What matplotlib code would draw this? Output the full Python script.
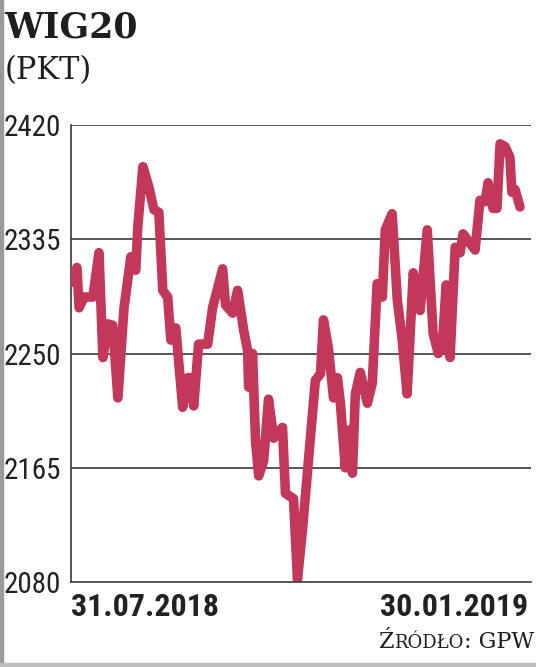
import matplotlib
matplotlib.use("Agg")
import matplotlib.pyplot as plt
from matplotlib.patches import Rectangle

# WIG20 index, days since 31.07.2018
days = [0, 2.4, 3.3, 5.3, 8.9, 11.4, 13, 15, 17, 19.1, 21.6, 24.4, 26.4, 27.2,
        29.3, 31.7, 33.8, 35.8, 37.4, 39.4, 40.7, 42.7, 45.5, 47.6, 48.8, 50,
        52, 55.7, 57.7, 61.8, 63, 65.9, 67.9, 70.4, 72, 72.4, 73.2, 74, 75.2,
        76.5, 78.5, 80.5, 82.6, 86.2, 87.4, 90.7, 92.3, 94.3, 99.6, 101.7,
        102.9, 104.9, 107, 108.6, 109.8, 111.8, 113, 114.7, 115.9, 117.9,
        120.8, 122.8, 124.8, 126.9, 128.1, 130.9, 133, 135, 137, 139.5, 142.3,
        145.2, 147.6, 149.7, 151.3, 152.9, 154.5, 156.6, 158.6, 159.8, 164.7,
        166.7, 168.8, 170, 172, 173.6, 174.9, 176.9, 178.9, 179.7, 181, 183]
wig20 = [2303, 2314, 2284, 2292, 2292, 2325, 2247, 2272, 2271, 2217, 2284,
         2322, 2312, 2344, 2389, 2374, 2357, 2355, 2297, 2292, 2260, 2269,
         2210, 2232, 2232, 2211, 2257, 2257, 2284, 2313, 2286, 2280, 2297,
         2267, 2252, 2225, 2228, 2250, 2185, 2159, 2170, 2216, 2187, 2195,
         2146, 2142, 2082, 2118, 2230, 2235, 2275, 2254, 2217, 2232, 2213,
         2165, 2193, 2161, 2220, 2236, 2213, 2228, 2302, 2292, 2342, 2354,
         2290, 2260, 2220, 2310, 2282, 2342, 2265, 2250, 2254, 2301, 2247,
         2329, 2325, 2339, 2327, 2364, 2363, 2377, 2358, 2358, 2406, 2404,
         2396, 2370, 2372, 2359]

yticks = [2080, 2165, 2250, 2335, 2420]
start_label = "31.07.2018"
end_label = "30.01.2019"

red = "#c3385a"
grid_col = "#3a3a3a"
narrow = ["Roboto Condensed", "Liberation Sans Narrow", "Roboto", "DejaVu Sans"]

fig = plt.figure(figsize=(5.36, 6.67), dpi=100)
ax = fig.add_axes([0.1325, 0.1274, 0.8582, 0.6852])

ax.plot(days, wig20, color=red, lw=6.9, solid_joinstyle="round",
        solid_capstyle="round", zorder=3)

ax.set_xlim(0, 187.5)
ax.set_ylim(2080, 2420)
for v in yticks[1:]:
    ax.axhline(v, color=grid_col, lw=1.2, zorder=1)

for s in ["top", "right"]:
    ax.spines[s].set_visible(False)
for s in ["left", "bottom"]:
    ax.spines[s].set_color(grid_col)
    ax.spines[s].set_linewidth(1.2)
ax.spines["bottom"].set_zorder(4)

ax.set_yticks(yticks)
ax.set_yticklabels([str(v) for v in yticks], family=narrow, fontsize=21,
                   color="#222222")
ax.tick_params(axis="y", length=0, pad=7)
ax.set_xticks([])

ax.text(0, -0.022, start_label, transform=ax.transAxes, ha="left", va="top",
        family=narrow, fontweight="bold", fontsize=23, color="#222222")
ax.text(0.993, -0.022, end_label, transform=ax.transAxes, ha="right",
        va="top", family=narrow, fontweight="bold", fontsize=23,
        color="#222222")

fig.text(0.008, 0.985, "WIG20", ha="left", va="top", family="DejaVu Serif",
         fontweight="bold", fontsize=25, color="#1e1e1e")
fig.text(0.008, 0.918, "(PKT)", ha="left", va="top", family="DejaVu Serif",
         fontsize=22, color="#1e1e1e")

# source line in small caps, placed right to left
fig.canvas.draw()
r = fig.canvas.get_renderer()
x = 0.996
y = 0.029
parts = [(": GPW", 16), ("RÓDŁO", 13), ("Ź", 16)]
for txt, size in parts:
    t = fig.text(x, y, txt, ha="right", va="baseline", family="DejaVu Serif",
                 fontsize=size, color="#1e1e1e")
    bb = t.get_window_extent(renderer=r)
    x -= bb.width / fig.bbox.width

fig.patches.append(Rectangle((0, 0), 0.006, 1, transform=fig.transFigure,
                             color="#9a9a9a", zorder=0))
fig.patches.append(Rectangle((0, 0), 1, 0.006, transform=fig.transFigure,
                             color="#bdbdbd", zorder=0))

fig.savefig("out.png", dpi=100)
